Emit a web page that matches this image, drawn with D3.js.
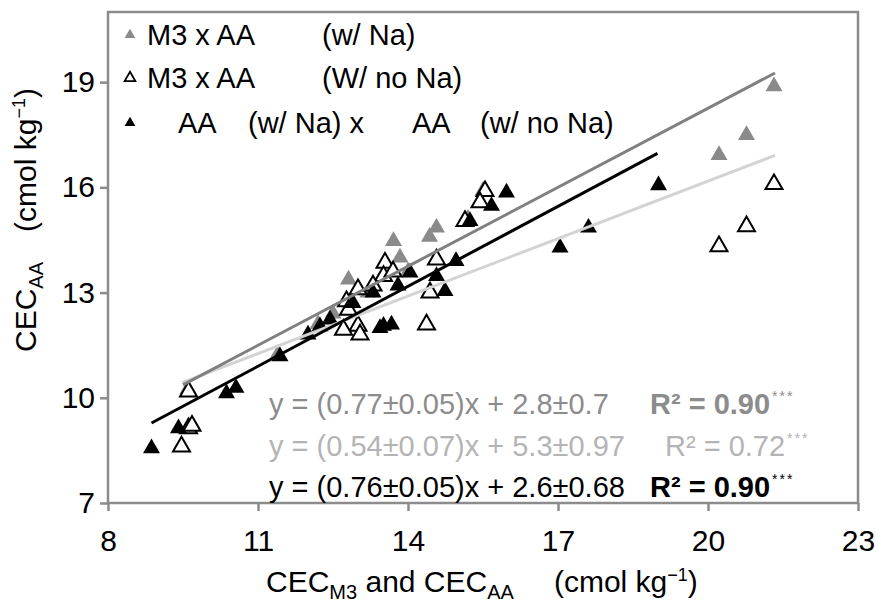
<!DOCTYPE html>
<html><head><meta charset="utf-8">
<script src="https://cdn.jsdelivr.net/npm/d3@7"></script>
<style>body{margin:0;background:#fff}svg{display:block}text{font-family:Arial,"Liberation Sans",sans-serif}</style>
</head><body>
<svg id="c" width="886" height="609"></svg>
<script>
// ---- data ----
const xTicks = [8, 11, 14, 17, 20, 23];
const yTicks = [7, 10, 13, 16, 19];
// M3 x AA (w/ Na) : [CEC_M3, CEC_AA]
const grayX = [21.32, 20.77, 20.22, 14.57, 14.43, 13.71, 13.84, 12.81, 9.6, 11.4, 12.2, 12.5, 13.2, 13.5, 14.0, 15.2, 15.5];
const grayY = [18.88, 17.49, 16.92, 14.85, 14.59, 14.47, 14.0, 13.37, 10.25, 11.25, 12.1, 12.4, 13.0, 13.5, 13.6, 15.1, 15.9];
// M3 x AA (W/ no Na)
const openX = [21.32, 20.77, 20.22, 15.54, 15.44, 15.14, 14.57, 14.44, 14.37, 13.54, 13.51, 13.0, 12.77, 12.81, 13.0, 12.71, 13.04, 9.61, 9.61, 9.68, 9.47, 13.7, 13.3];
const openY = [16.09, 14.89, 14.32, 15.89, 15.57, 15.04, 13.94, 13.0, 12.09, 13.85, 13.47, 13.09, 12.75, 12.51, 12.05, 11.94, 11.8, 10.18, 9.13, 9.2, 8.61, 13.6, 13.2];
// AA (w/ Na) x AA (w/ no Na)
const blackX = [19.01, 17.61, 17.04, 15.97, 15.67, 15.24, 14.96, 14.57, 14.74, 14.04, 13.51, 13.67, 13.44, 12.44, 12.24, 11.44, 10.37, 10.56, 9.41, 8.87, 13.3, 12.9, 12.0, 13.8];
const blackY = [16.06, 14.85, 14.28, 15.85, 15.47, 15.04, 13.9, 13.47, 13.04, 13.57, 12.05, 12.09, 11.99, 12.23, 12.04, 11.18, 10.13, 10.28, 9.13, 8.56, 13.0, 12.7, 11.8, 13.2];
// regression line end points [x1, y1, x2, y2]
const grayFit = [9.5, 10.37, 21.34, 19.26];
const lightFit = [9.48, 10.43, 21.34, 16.91];
const blackFit = [8.87, 9.28, 18.99, 16.97];
const equations = [
  ["y = (0.77±0.05)x + 2.8±0.7", "R² = 0.90", "***"],
  ["y = (0.54±0.07)x + 5.3±0.97", "R² = 0.72", "***"],
  ["y = (0.76±0.05)x + 2.6±0.68", "R² = 0.90", "***"]
];

// ---- chart ----
const svg = d3.select("#c");
const L = 108, R = 858, T = 12, B = 503;
const x = d3.scaleLinear().domain([8, 23]).range([L, R]);
const y = d3.scaleLinear().domain([7, 21]).range([B, T]);
const frameCol = "#8c8c8c";
const FS = 30;

svg.append("rect").attr("width", 886).attr("height", 609).attr("fill", "#fff");

const ax = svg.append("g").attr("transform", `translate(0,${B})`)
  .call(d3.axisBottom(x).tickValues(xTicks).tickSize(8).tickSizeOuter(0).tickPadding(19));
const ay = svg.append("g").attr("transform", `translate(${L},0)`)
  .call(d3.axisLeft(y).tickValues(yTicks).tickSize(8).tickSizeOuter(0).tickPadding(5));
[ax, ay].forEach(g => {
  g.select(".domain").remove();
  g.selectAll(".tick line").attr("stroke", frameCol).attr("stroke-width", 2.5);
  g.selectAll(".tick text").attr("font-size", FS).attr("fill", "#000").attr("font-family", "Arial, 'Liberation Sans', sans-serif");
});

svg.append("rect").attr("x", L).attr("y", T).attr("width", R - L).attr("height", B - T)
  .attr("fill", "none").attr("stroke", frameCol).attr("stroke-width", 2.5);

const tri = d3.symbol(d3.symbolTriangle, 125);
function pts(xs, ys, fill, stroke, sw) {
  svg.append("g").selectAll("path").data(xs.map((v, i) => [v, ys[i]])).join("path")
    .attr("d", tri).attr("transform", d => `translate(${x(d[0])},${y(d[1])})`)
    .attr("fill", fill).attr("stroke", stroke).attr("stroke-width", sw);
}
pts(grayX, grayY, "#8a8a8a", "none", 0);
pts(openX, openY, "#fff", "#000", 2);
pts(blackX, blackY, "#000", "none", 0);

function fit(f, col) {
  svg.append("line").attr("x1", x(f[0])).attr("y1", y(f[1])).attr("x2", x(f[2])).attr("y2", y(f[3]))
    .attr("stroke", col).attr("stroke-width", 3);
}
fit(lightFit, "#d3d3d3");
fit(grayFit, "#808080");
fit(blackFit, "#000");

// legend
const leg = svg.append("g");
const lsym = d3.symbol(d3.symbolTriangle, 50);
const legRows = [
  {y: 35, fill: "#8a8a8a", stroke: "none", parts: [[147, "M3 x AA"], [322, "(w/ Na)"]]},
  {y: 78, fill: "#fff", stroke: "#000", parts: [[147, "M3 x AA"], [322, "(W/ no Na)"]]},
  {y: 123, fill: "#000", stroke: "none", parts: [[178, "AA"], [248, "(w/ Na) x"], [412, "AA"], [480, "(w/ no Na)"]]}
];
legRows.forEach(r => {
  leg.append("path").attr("d", lsym).attr("transform", `translate(130,${r.y})`)
    .attr("fill", r.fill).attr("stroke", r.stroke).attr("stroke-width", 1.8);
  r.parts.forEach(p => leg.append("text").attr("x", p[0]).attr("y", r.y + 10)
    .attr("font-size", 29).text(p[1]));
});

// equations
const eqCols = ["#8c8c8c", "#b4b4b4", "#000"];
const eqY = [414, 456, 497];
const r2X = [650, 665, 650];
equations.forEach((e, i) => {
  svg.append("text").attr("x", 269).attr("y", eqY[i]).attr("font-size", 29).attr("fill", eqCols[i]).text(e[0]);
  const t = svg.append("text").attr("x", r2X[i]).attr("y", eqY[i]).attr("font-size", 29).attr("fill", eqCols[i])
    .attr("font-weight", i === 1 ? "normal" : "bold");
  t.append("tspan").text(e[1]);
  t.append("tspan").attr("font-size", 14).attr("dx", 2).attr("dy", -13).attr("font-weight", "normal").attr("letter-spacing", 2).text(e[2]);
});

// axis titles
const xt = svg.append("text").attr("x", 266).attr("y", 592).attr("font-size", FS);
xt.append("tspan").text("CEC");
xt.append("tspan").attr("font-size", 20).attr("dy", 7).text("M3");
xt.append("tspan").attr("dy", -7).text(" and CEC");
xt.append("tspan").attr("font-size", 20).attr("dy", 7).text("AA");
xt.append("tspan").attr("dy", -7).attr("dx", 40).text("(cmol kg");
xt.append("tspan").attr("font-size", 18).attr("dy", -11).text("−1");
xt.append("tspan").attr("dy", 11).text(")");

const yt = svg.append("text").attr("transform", "translate(36,352) rotate(-90)").attr("font-size", FS);
yt.append("tspan").text("CEC");
yt.append("tspan").attr("font-size", 20).attr("dy", 7).text("AA");
yt.append("tspan").attr("dy", -7).attr("dx", 30).text("(cmol kg");
yt.append("tspan").attr("font-size", 18).attr("dy", -11).text("−1");
yt.append("tspan").attr("dy", 11).text(")");
</script>
</body></html>
